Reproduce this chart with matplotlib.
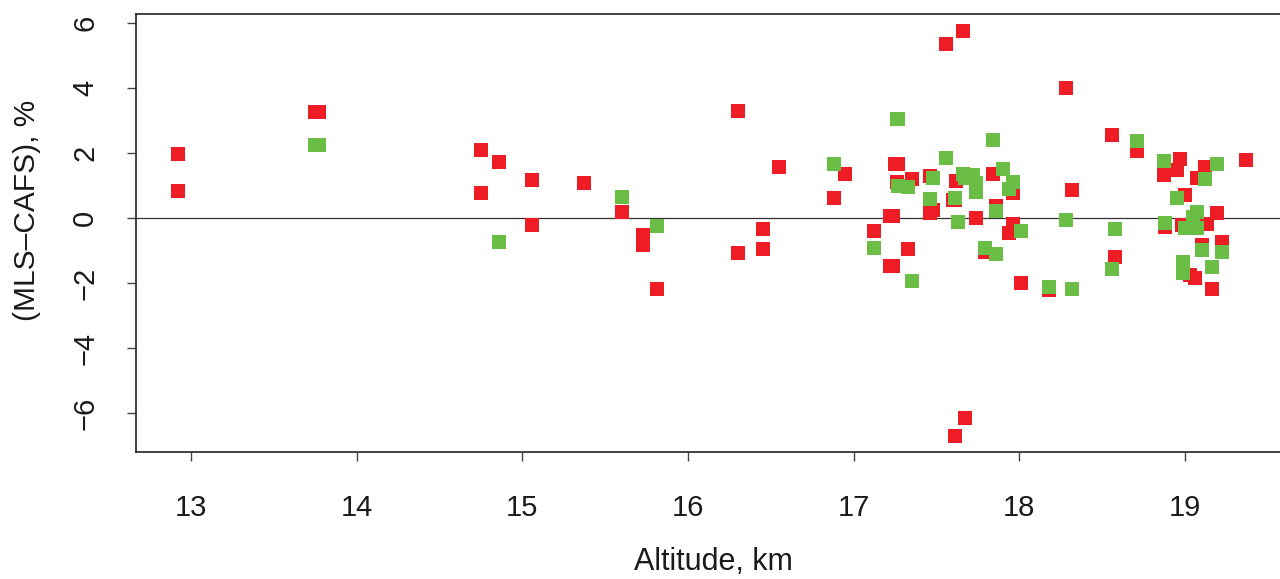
import matplotlib
matplotlib.use("Agg")
import matplotlib.pyplot as plt

plt.rcParams['font.family'] = ['Liberation Sans', 'DejaVu Sans']

# Red series (altitude km, difference %)
red_alt = [12.92, 12.92, 13.75, 13.77, 14.75, 14.75, 14.86, 15.06, 15.06, 15.37,
           15.60, 15.73, 15.73, 15.81, 16.30, 16.30, 16.45, 16.45, 16.55,
           16.88, 16.95, 17.12, 17.22, 17.24, 17.22, 17.24, 17.25, 17.27, 17.26,
           17.33, 17.35, 17.46, 17.46, 17.48, 17.56, 17.60, 17.61, 17.62, 17.66,
           17.67, 17.74, 17.79, 17.84, 17.86, 17.94, 17.96, 17.96, 18.01, 18.18,
           18.28, 18.32, 18.56, 18.58, 18.71, 18.87, 18.88, 18.95, 18.97, 18.98,
           19.00, 19.03, 19.06, 19.07, 19.10, 19.12, 19.13, 19.16, 19.19, 19.22,
           19.37, 17.61]
red_diff = [1.97, 0.83, 3.25, 3.25, 2.09, 0.77, 1.72, 1.17, -0.22, 1.08,
            0.18, -0.52, -0.83, -2.18, 3.29, -1.08, -0.34, -0.95, 1.57,
            0.61, 1.35, -0.39, 0.06, 0.06, -1.47, -1.49, 1.66, 1.66, 1.12,
            -0.96, 1.19, 0.14, 1.30, 0.25, 5.36, 0.55, -6.71, 1.15, 5.76,
            -6.16, 0.00, -1.04, 1.34, 0.37, -0.45, -0.19, 0.78, -1.99, -2.20,
            4.00, 0.85, 2.55, -1.21, 2.07, 1.31, -0.27, 1.48, 1.82, -0.22,
            0.71, -1.75, -1.86, 1.22, -0.83, 1.58, -0.18, -2.19, 0.16, -0.73,
            1.78, 0.55]

# Green series
green_alt = [13.75, 13.77, 14.86, 15.60, 15.81, 16.88, 17.12, 17.12, 17.26, 17.27,
             17.27, 17.33, 17.35, 17.46, 17.48, 17.56, 17.61, 17.63, 17.66, 17.67,
             17.72, 17.74, 17.74, 17.79, 17.84, 17.86, 17.86, 17.90, 17.94, 17.96,
             18.01, 18.18, 18.28, 18.32, 18.56, 18.58, 18.71, 18.87, 18.88, 18.95,
             18.99, 18.99, 19.00, 19.05, 19.07, 19.07, 19.10, 19.12, 19.16, 19.19,
             19.22]
green_diff = [2.25, 2.25, -0.74, 0.65, -0.25, 1.66, -0.91, -0.91, 3.06, 3.06,
              0.98, 0.95, -1.94, 0.59, 1.23, 1.86, 0.62, -0.13, 1.34, 1.22,
              1.32, 1.07, 0.81, -0.93, 2.39, 0.21, -1.11, 1.52, 0.89, 1.10,
              -0.40, -2.13, -0.07, -2.18, -1.58, -0.33, 2.38, 1.75, -0.14, 0.61,
              -1.34, -1.70, -0.32, 0.04, 0.19, -0.32, -0.98, 1.21, -1.52, 1.65,
              -1.04]

x_ticks = [13, 14, 15, 16, 17, 18, 19]
y_ticks = [-6, -4, -2, 0, 2, 4, 6]

W, H = 1280, 579
fig = plt.figure(figsize=(W / 100, H / 100), dpi=100)
left, right, top, bottom = 136, 1280, 14, 452
ax = fig.add_axes([left / W, 1 - bottom / H, (right - left) / W, (bottom - top) / H])

ax.axhline(0, color='#333333', lw=0.9, zorder=1)
ax.scatter(red_alt, red_diff, marker='s', s=90, color='#EE1D25', linewidths=0, zorder=2)
ax.scatter(green_alt, green_diff, marker='s', s=90, color='#6ABD45', linewidths=0, zorder=3)

ax.set_xlim(12.668, 19.573)
ax.set_ylim(-7.2, 6.277)
ax.set_xticks(x_ticks)
ax.set_yticks(y_ticks)
ax.set_xticklabels([str(t) for t in x_ticks])
ax.set_yticklabels([str(t).replace('-', '\u2212') for t in y_ticks], rotation=90, va='center')

for s in ['left', 'top', 'bottom']:
    ax.spines[s].set_color('#222222')
    ax.spines[s].set_linewidth(1.2)
ax.spines['right'].set_visible(False)

ax.tick_params(axis='x', direction='out', length=6.5, width=1, color='#444444',
               pad=24, labelsize=21, labelcolor='#1a1a1a')
ax.tick_params(axis='y', direction='out', length=6.5, width=1, color='#444444',
               pad=20, labelsize=21, labelcolor='#1a1a1a')

fig.text(27 / W, 1 - 210 / H, '(MLS\u2013CAFS), %', rotation=90, ha='center', va='center',
         fontsize=21.5, color='#1a1a1a')
fig.text(713 / W, 1 - 562 / H, 'Altitude, km', ha='center', va='center',
         fontsize=22, color='#1a1a1a')

fig.savefig('out.png', dpi=100)
